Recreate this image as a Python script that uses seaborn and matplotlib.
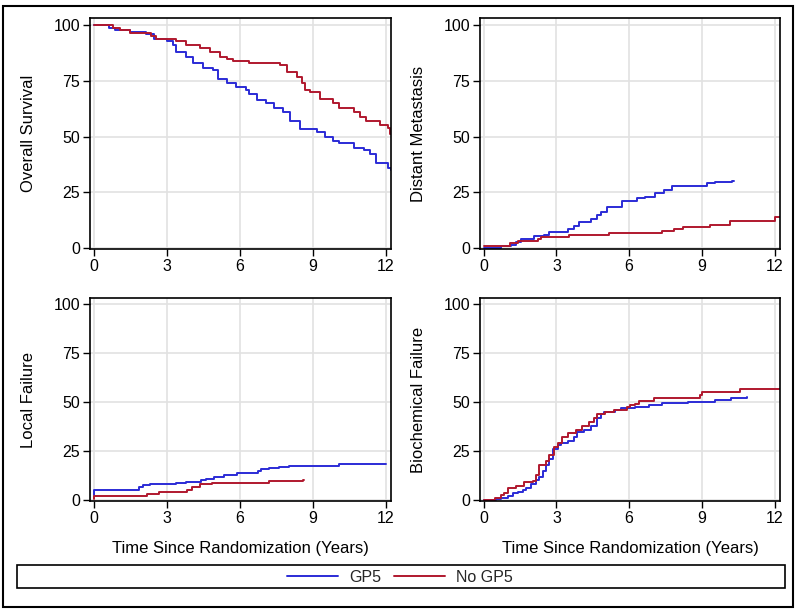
import pandas as pd
import seaborn as sns
import matplotlib.pyplot as plt
from matplotlib.lines import Line2D
from matplotlib.patches import Rectangle

sns.set_style('whitegrid')
plt.rcParams['font.family'] = ['Liberation Sans', 'DejaVu Sans']

groups = ['GP5', 'No GP5']
colors = {'GP5': '#2b2bd6', 'No GP5': '#b0182e'}
x_ticks = [0, 3, 6, 9, 12]
y_ticks = [0, 25, 50, 75, 100]
x_label = 'Time Since Randomization (Years)'

# Overall survival
os_gp5_t = [0, 0.63, 0.86, 1.48, 2.17, 2.5, 3.0, 3.26, 3.4, 3.8, 4.1, 4.5, 4.9, 5.1, 5.46, 5.87, 6.28,
            6.4, 6.7, 7.1, 7.4, 7.8, 8.07, 8.48, 9.16, 9.5, 9.85, 10.1, 10.7, 11.1, 11.36, 11.6, 12.1, 12.22]
os_gp5_y = [100, 99, 98, 97, 96, 94, 93, 91, 88, 86, 83, 81, 80, 76, 74, 72.5, 71,
            69, 66.5, 65, 63, 61, 57, 53.5, 52, 50, 48, 47, 45, 44, 42, 38, 36, 35]
os_no_t = [0, 0.8, 1.07, 1.48, 2.37, 2.58, 3.4, 3.8, 4.36, 4.77, 5.18, 5.46, 5.73, 6.4, 7.65,
           7.93, 8.34, 8.55, 8.68, 8.89, 9.3, 9.85, 10.1, 10.7, 10.95, 11.2, 11.77, 12.1, 12.19, 12.25]
os_no_y = [100, 99, 98, 96.5, 95, 94, 93, 91, 90, 88, 86, 85, 84, 83, 82,
           79, 77, 74, 71, 70, 67, 65, 63, 61, 59, 57, 55, 54, 51, 51]

# Distant metastasis
dm_gp5_t = [0, 0.72, 1.13, 1.34, 1.54, 2.09, 2.5, 2.7, 3.46, 3.73, 3.93, 4.41, 4.69, 4.82, 5.1,
            5.71, 6.33, 6.67, 7.08, 7.42, 7.76, 9.19, 9.53, 10.25, 10.32]
dm_gp5_y = [0, 1, 1.5, 2.5, 4, 5.5, 6, 7, 8.5, 10, 11.5, 13, 15, 16, 18.5,
            21, 22.5, 23, 24.5, 26, 28, 29, 29.5, 30, 30]
dm_no_t = [0, 1.1, 1.4, 2.23, 2.36, 3.52, 5.16, 7.35, 7.83, 8.24, 9.33, 10.15, 12.0, 12.25]
dm_no_y = [1, 2, 3, 4, 5, 6, 6.5, 7.5, 8.5, 9.5, 10.5, 12, 14, 14]

# Local failure
lf_gp5_t = [0, 0.03, 1.86, 2.03, 2.31, 3.37, 3.78, 4.4, 4.6, 4.95, 5.37, 5.9, 6.74, 6.87, 7.19,
            7.6, 8.04, 10.1, 12.0]
lf_gp5_y = [2.5, 5, 6.5, 7.5, 8, 8.5, 9, 10, 11, 12, 13, 14, 15, 16, 16.5,
            17, 17.5, 18.3, 18.5]
lf_no_t = [0, 0.03, 2.2, 2.68, 3.85, 4.03, 4.37, 4.88, 7.22, 8.59, 8.66]
lf_no_y = [0.5, 2, 3, 4, 5, 6.5, 8, 8.5, 9.5, 10.2, 10.2]

# Biochemical failure
bf_gp5_t = [0, 0.52, 0.72, 1.0, 1.2, 1.4, 1.61, 1.75, 1.95, 2.16, 2.3, 2.43, 2.57, 2.7, 2.84, 3.05,
            3.18, 3.46, 3.73, 3.87, 4.14, 4.41, 4.69, 4.82, 4.96, 5.41, 5.68, 6.25, 6.8, 7.35, 8.44,
            9.53, 10.22, 10.84]
bf_gp5_y = [0, 0.5, 1, 2, 3.5, 4, 5, 6, 8, 10, 12, 15, 18, 21, 26, 28,
            29, 30, 32, 35, 36, 38, 42, 44, 45, 46, 47, 47.5, 48.5, 49.5, 50,
            51, 52, 52.5]
bf_no_t = [0, 0.45, 0.72, 0.86, 1.0, 1.34, 1.68, 2.02, 2.16, 2.3, 2.57, 2.7, 2.9, 3.05, 3.25, 3.46,
           3.8, 4.07, 4.34, 4.55, 4.69, 5.0, 5.37, 5.92, 6.05, 6.26, 6.4, 7.02, 8.93, 9.0, 10.57, 12.25]
bf_no_y = [0, 1, 2.5, 3.5, 6, 7, 9, 9.5, 13, 18, 20, 23, 27, 29, 32, 34.5,
           36, 38, 40, 42, 44, 45, 46, 47.5, 48.5, 49, 50.5, 52, 53.5, 55, 57, 57]

panels = [
    ('Overall Survival', os_gp5_t, os_gp5_y, os_no_t, os_no_y),
    ('Distant Metastasis', dm_gp5_t, dm_gp5_y, dm_no_t, dm_no_y),
    ('Local Failure', lf_gp5_t, lf_gp5_y, lf_no_t, lf_no_y),
    ('Biochemical Failure', bf_gp5_t, bf_gp5_y, bf_no_t, bf_no_y),
]

W, H = 800, 613
fig = plt.figure(figsize=(W / 100, H / 100), dpi=100)

# axes boxes in pixels: left, top, right, bottom
boxes = [(90, 18, 391, 249), (480, 18, 780, 249), (90, 298, 391, 501), (480, 298, 780, 501)]

for i, (name, t1, y1, t2, y2) in enumerate(panels):
    l, t, r, b = boxes[i]
    ax = fig.add_axes([l / W, 1 - b / H, (r - l) / W, (b - t) / H])
    df = pd.DataFrame({'Time': t1 + t2, 'Pct': y1 + y2,
                       'Group': ['GP5'] * len(t1) + ['No GP5'] * len(t2)})
    sns.lineplot(data=df, x='Time', y='Pct', hue='Group', palette=colors, hue_order=groups,
                 drawstyle='steps-post', estimator=None, legend=False, linewidth=1.4, ax=ax)
    ax.set_xlim(-0.15, 12.22)
    ax.set_ylim(-0.5, 103.3)
    ax.set_xticks(x_ticks)
    ax.set_yticks(y_ticks)
    ax.grid(True, color='#e2e2e2', linewidth=1.2)
    ax.set_axisbelow(True)
    for s in ax.spines.values():
        s.set_color('black')
        s.set_linewidth(1.2)
    ax.tick_params(bottom=True, left=True, direction='out', length=5, width=1,
                   color='black', labelsize=11.5, pad=2, labelcolor='black')
    ax.set_ylabel(name, fontsize=12, color='black')
    ax.yaxis.set_label_coords(-0.18, 0.5)
    if i >= 2:
        ax.set_xlabel(x_label, fontsize=12, color='black')
        ax.xaxis.set_label_coords(0.5, -0.195)
    else:
        ax.set_xlabel('')

# outer frame and legend box
fig.add_artist(Rectangle((3 / W, 6 / H), 790 / W, 601 / H, transform=fig.transFigure,
                         fill=False, edgecolor='black', linewidth=1.5))
fig.add_artist(Rectangle((17 / W, 25 / H), 768 / W, 23 / H, transform=fig.transFigure,
                         fill=False, edgecolor='black', linewidth=1.2))

handles = [Line2D([], [], color=colors[g], linewidth=1.4) for g in groups]
fig.legend(handles, groups, loc='center', bbox_to_anchor=(0.5, 1 - 577 / H), ncol=2,
           frameon=False, fontsize=11.5, handlelength=3.2, handletextpad=0.7, columnspacing=0.8)

fig.savefig('out.png', dpi=100)
